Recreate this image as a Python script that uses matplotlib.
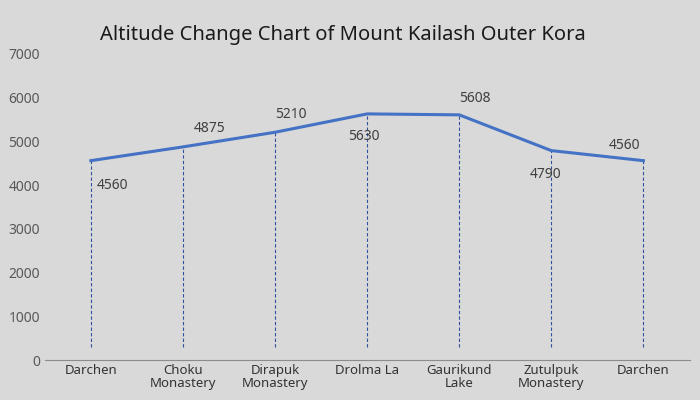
import matplotlib
matplotlib.use("Agg")
import matplotlib.pyplot as plt

# 数据
places = ["Darchen", "Choku\nMonastery", "Dirapuk\nMonastery", "Drolma La",
          "Gaurikund\nLake", "Zutulpuk\nMonastery", "Darchen"]
altitude = [4560, 4875, 5210, 5630, 5608, 4790, 4560]
label_offsets = [(4, -18), (8, 13), (0, 13), (-2, -16), (0, 12), (-4, -17), (-14, 11)]

plt.rcParams["font.family"] = "Noto Sans"
bg = "#d9d9d9"
fig = plt.figure(figsize=(7, 4), dpi=100, facecolor=bg)
ax = fig.add_axes([0.064, 0.1, 0.921, 0.765], facecolor=bg)

x = list(range(len(places)))
ax.vlines(x, 300, altitude, colors="#2f4f9f", linestyles=(0, (3, 2)), linewidth=0.8)
ax.plot(x, altitude, color="#4472c4", linewidth=2.2)

for xi, v, off in zip(x, altitude, label_offsets):
    ax.annotate(str(v), (xi, v), xytext=off, textcoords="offset points",
                ha="left" if off[0] >= 0 else "center", va="center",
                fontsize=10, color="#404040")

ax.set_xlim(-0.5, len(places) - 0.5)
ax.set_ylim(0, 7000)
ax.set_yticks(range(0, 7001, 1000))
ax.set_xticks(x)
ax.set_xticklabels(places, fontsize=9.5, color="#333333", linespacing=0.95)
ax.tick_params(axis="y", labelsize=10, labelcolor="#595959", length=0)
ax.tick_params(axis="x", length=0, pad=3)
for s in ["top", "right", "left"]:
    ax.spines[s].set_visible(False)
ax.spines["bottom"].set_color("#8c8c8c")

fig.text(0.49, 0.9, "Altitude Change Chart of Mount Kailash Outer Kora",
         ha="center", fontsize=14.5, color="#1a1a1a")

fig.savefig("out.png", facecolor=bg)
